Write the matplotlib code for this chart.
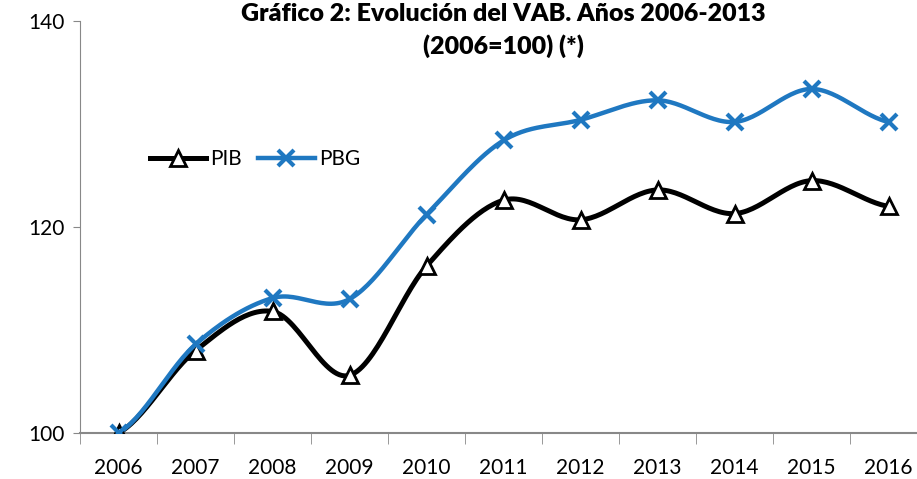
import matplotlib.pyplot as plt
import numpy as np

plt.rcParams['font.family'] = ['Lato', 'DejaVu Sans']

years = ['2006', '2007', '2008', '2009', '2010', '2011', '2012', '2013', '2014', '2015', '2016']
pib = [100, 108.0, 111.8, 105.6, 116.2, 122.6, 120.7, 123.6, 121.3, 124.5, 122.0]
pbg = [100, 108.6, 113.1, 113.0, 121.2, 128.4, 130.4, 132.3, 130.2, 133.4, 130.2]


def smooth(y, n=30):
    # catmull-rom curve through the points, like excel's smoothed line
    y = np.asarray(y, float)
    p = np.concatenate([[y[0]], y, [y[-1]]])
    xs, ys = [], []
    for i in range(len(y) - 1):
        t = np.linspace(0, 1, n, endpoint=False)
        p0, p1, p2, p3 = p[i], p[i + 1], p[i + 2], p[i + 3]
        yy = 0.5 * ((2 * p1) + (-p0 + p2) * t + (2 * p0 - 5 * p1 + 4 * p2 - p3) * t ** 2
                    + (-p0 + 3 * p1 - 3 * p2 + p3) * t ** 3)
        xs.append(i + t)
        ys.append(yy)
    xs.append([len(y) - 1])
    ys.append([y[-1]])
    return np.concatenate(xs), np.concatenate(ys)


blue = '#1f78c1'
fig = plt.figure(figsize=(9.17, 4.79), dpi=100)
ax = fig.add_axes([80 / 917, 46 / 479, 847 / 917, 412 / 479])

x = np.arange(len(years))
sx, sy = smooth(pib)
ax.plot(sx, sy, color='black', lw=3.6, zorder=2)
ax.plot(x, pib, ls='none', marker='^', ms=11, mfc='white', mec='black', mew=2, zorder=3)
sx, sy = smooth(pbg)
ax.plot(sx, sy, color=blue, lw=3.2, zorder=2)
ax.plot(x, pbg, ls='none', marker='x', ms=11, mec=blue, mew=3, zorder=3)

# legend proxies
ax.plot([], [], color='black', lw=3.6, marker='^', ms=11, mfc='white', mec='black', mew=2, label='PIB')
ax.plot([], [], color=blue, lw=3.2, marker='x', ms=11, mec=blue, mew=3, label='PBG')
ax.legend(loc='upper left', bbox_to_anchor=(0.06, 0.735), ncol=2, frameon=False, fontsize=15,
          handlelength=2.7, handletextpad=0.2, columnspacing=0.8)

ax.set_xlim(-0.5, len(years) - 0.5)
ax.set_ylim(100, 140)
ax.set_yticks([100, 120, 140])
ax.set_xticks(x)
ax.set_xticklabels(years)
ax.set_xticks(np.arange(-0.5, len(years), 1), minor=True)
ax.tick_params(axis='x', which='major', length=0, labelsize=15, pad=18)
ax.tick_params(axis='x', which='minor', length=8, color='#888888', direction='out')
ax.tick_params(axis='y', length=5, color='#888888', labelsize=15, pad=6)
for s in ['top', 'right']:
    ax.spines[s].set_visible(False)
ax.spines['left'].set_color('#888888')
ax.spines['bottom'].set_color('#888888')
ax.spines['bottom'].set_linewidth(1.5)

fig.text(503 / 917, 1 - 14 / 479, 'Gráfico 2: Evolución del VAB. Años 2006-2013',
         ha='center', va='center', fontsize=18, fontweight='heavy')
fig.text(503 / 917, 1 - 46 / 479, '(2006=100) (*)',
         ha='center', va='center', fontsize=18, fontweight='heavy')

fig.savefig('out.png', dpi=100)
